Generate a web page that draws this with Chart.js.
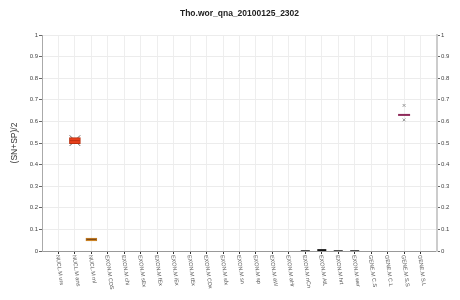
<!DOCTYPE html>
<html><head><meta charset="utf-8">
<script src="https://cdn.jsdelivr.net/npm/chart.js@4.4.1/dist/chart.umd.min.js"></script>
<style>html,body{margin:0;padding:0;background:#fff}#wrap{width:460px;height:300px}</style>
</head><body><div id="wrap"><canvas id="c" width="460" height="300"></canvas></div>
<script>
const chartTitle = "Tho.wor_qna_20100125_2302";
const yTitle = "(SN+SP)/2";
const categories = ["NUCL.M urs","NUCL.M ans","NUCL.M ml","EXON.M CDS","EXON.M chi","EXON.M sEx","EXON.M fEx","EXON.M iEx","EXON.M tEx","EXON.M CDx","EXON.M sfx","EXON.M sn","EXON.M sp","EXON.M aW","EXON.M aHr","EXON.M nCn","EXON.M AtL","EXON.M hrt","EXON.M wer","GENE.M C.S","GENE.M C.L","GENE.M S.S","GENE.M S.L"];
const yTicks = [0,0.1,0.2,0.3,0.4,0.5,0.6,0.7,0.8,0.9,1];
// box (quartile) extents, where a box is visible
const boxLow  = [null,0.497,0.047,null,null,null,null,null,null,null,null,null,null,null,null,null,null,null,null,null,null,null,null];
const boxHigh = [null,0.525,0.060,null,null,null,null,null,null,null,null,null,null,null,null,null,null,null,null,null,null,null,null];
// medians
const medians = [0,0.511,0.054,0,0,0,0,0,0,0,0,0,0,0,0,0.002,0.004,0.002,0.002,0,0,0.630,0];
// whisker ends drawn as corner marks (category 1)
const whiskerCenter = [null,0.511,null,null,null,null,null,null,null,null,null,null,null,null,null,null,null,null,null,null,null,null,null];
// outlier marks
const whiskerHigh = [null,null,null,null,null,null,null,null,null,null,null,null,null,null,null,null,null,null,null,null,null,0.674,null];
const whiskerLow  = [null,null,null,null,null,null,null,null,null,null,null,null,null,null,null,null,null,null,null,null,null,0.607,null];
const medianColors = ["#333","#c0300f","#6b3a10","#333","#333","#333","#333","#333","#333","#333","#333","#333","#333","#333","#333","#444","#111","#444","#444","#333","#333","#8e2a5a","#333"];
const boxColors = [null,"#e8401c","#f0a23a"];
const boxBorders = [null,"#b8300f","#c07a20"];

const boxData = categories.map((c,i)=> boxLow[i]==null?null:{x:i,y:[boxLow[i],boxHigh[i]]}).filter(d=>d);
const medData = categories.map((c,i)=>({x:i,y:medians[i]}));
const xData = categories.map((c,i)=> whiskerCenter[i]==null?null:{x:i,y:whiskerCenter[i]}).filter(d=>d);
const wHi = categories.map((c,i)=> whiskerHigh[i]==null?null:{x:i,y:whiskerHigh[i]}).filter(d=>d);
const wLo = categories.map((c,i)=> whiskerLow[i]==null?null:{x:i,y:whiskerLow[i]}).filter(d=>d);

const labelPlugin = {
  id:'rotLabels',
  afterDraw(chart){
    const ctx = chart.ctx, sx = chart.scales.x, top = chart.chartArea.bottom + 4;
    ctx.save();
    ctx.fillStyle = '#555';
    ctx.font = '5.5px "Liberation Sans", Arial, sans-serif';
    ctx.textAlign = 'left'; ctx.textBaseline = 'middle';
    categories.forEach((c,i)=>{
      const x = sx.getPixelForValue(i);
      ctx.save();
      ctx.translate(x-1, top);
      ctx.rotate(82*Math.PI/180);
      ctx.fillText(c,0,0);
      ctx.restore();
    });
    ctx.restore();
  }
};

const edge = v => (v===-1||v===categories.length);
const fmt = v => String(Math.round(v*10)/10);
new Chart(document.getElementById('c'),{
  type:'bar',
  data:{datasets:[
    {type:'bar',data:boxData,barThickness:11,grouped:false,order:2,
     backgroundColor:ctx=>boxColors[ctx.raw?ctx.raw.x:0]||'#999',
     borderColor:ctx=>boxBorders[ctx.raw?ctx.raw.x:0]||'#666',borderWidth:1,borderSkipped:false,yAxisID:'y'},
    {type:'line',data:xData,showLine:false,order:3,pointStyle:'crossRot',
     pointRadius:7.5,pointBorderColor:'#666',pointBorderWidth:1,pointBackgroundColor:'transparent',yAxisID:'y'},
    {type:'line',data:medData,showLine:false,order:1,pointStyle:'line',
     pointRadius:ctx=>(ctx.raw&&ctx.raw.y>0)?(ctx.dataIndex===21?6:(ctx.dataIndex<=2?5:4.5)):0,
     pointBorderColor:ctx=>medianColors[ctx.dataIndex],
     pointBorderWidth:ctx=>ctx.dataIndex===21?2:(ctx.dataIndex===16?2:1),yAxisID:'y'},
    {type:'line',data:wHi,showLine:false,order:1,pointStyle:'crossRot',pointRadius:2,
     pointBorderColor:'#999',pointBorderWidth:1,yAxisID:'y'},
    {type:'line',data:wLo,showLine:false,order:1,pointStyle:'crossRot',pointRadius:2,
     pointBorderColor:'#999',pointBorderWidth:1,yAxisID:'y'}
  ]},
  options:{
    responsive:false,animation:false,
    layout:{padding:0},
    plugins:{legend:{display:false},tooltip:{enabled:false},
      title:{display:true,text:chartTitle,fullSize:false,color:'#222',
        font:{family:'"Liberation Sans", Arial, sans-serif',size:8.5,weight:'bold'},padding:{top:9,bottom:15.8}}},
    scales:{
      x:{type:'linear',min:-1,max:categories.length,offset:false,
        ticks:{display:false,stepSize:1,autoSkip:false},
        grid:{offset:false,color:ctx=>edge(ctx.tick&&ctx.tick.value)?'rgba(0,0,0,0)':'#eeeeee',
          tickColor:ctx=>edge(ctx.tick&&ctx.tick.value)?'rgba(0,0,0,0)':'#333',tickLength:3},
        border:{color:'#999',width:1},
        afterFit:s=>{s.height=49;}},
      y:{position:'left',min:0,max:1,
        afterBuildTicks:s=>{s.ticks=yTicks.map(v=>({value:v}));},
        ticks:{color:'#444',font:{family:'"Liberation Sans", Arial, sans-serif',size:6},padding:1,callback:v=>fmt(v)},
        grid:{color:'#ececec',tickColor:'#666',tickLength:3},
        border:{color:'#aaa',width:1},
        title:{display:true,text:yTitle,color:'#333',font:{family:'"Liberation Sans", Arial, sans-serif',size:8.5},padding:{top:10,bottom:0}},
        afterFit:s=>{s.width=42;}},
      y2:{position:'right',min:0,max:1,
        afterBuildTicks:s=>{s.ticks=yTicks.map(v=>({value:v}));},
        ticks:{color:'#444',font:{family:'"Liberation Sans", Arial, sans-serif',size:6},padding:1,callback:v=>fmt(v)},
        grid:{drawOnChartArea:false,tickColor:'#666',tickLength:3},
        border:{color:'#cccccc',width:2},
        afterFit:s=>{s.width=23;}}
    }
  },
  plugins:[labelPlugin]
});
</script></body></html>
